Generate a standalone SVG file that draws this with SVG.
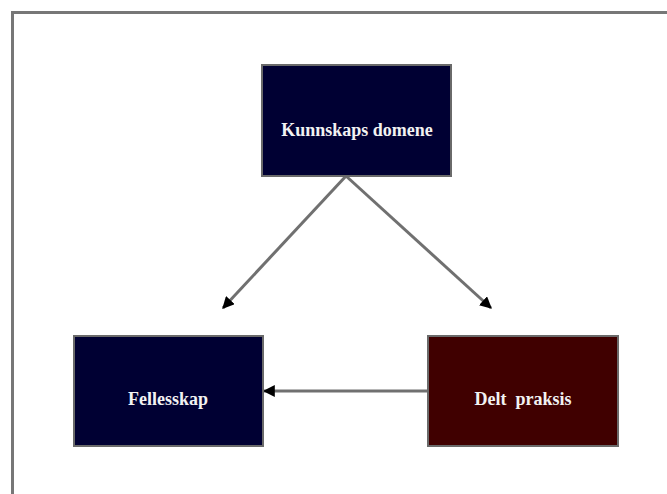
<svg xmlns="http://www.w3.org/2000/svg" width="667" height="494" viewBox="0 0 667 494">
<defs>
<marker id="ah" viewBox="0 0 10 10" refX="9" refY="5" markerWidth="4" markerHeight="4" markerUnits="strokeWidth" orient="auto">
<path d="M0,0 L10,5 L0,10 z" fill="#000"/>
</marker>
<style>
.box{stroke:#6a6a6a;stroke-width:2}
.lbl{font-family:"Liberation Serif",serif;font-weight:bold;font-size:18px;fill:#f2f2f2;text-anchor:middle;dominant-baseline:central}
.conn{stroke:#707070;stroke-width:3;fill:none;marker-end:url(#ah)}
</style>
</defs>
<rect x="0" y="0" width="667" height="494" fill="#fff"/>
<rect x="12.5" y="12.5" width="670" height="500" fill="none" stroke="#777" stroke-width="3"/>
<g id="connectors">
<line class="conn" x1="346" y1="176" x2="223" y2="308"/>
<line class="conn" x1="346" y1="176" x2="491" y2="308"/>
<line class="conn" x1="428" y1="391" x2="264" y2="391"/>
</g>
<g id="kunnskaps">
<rect class="box" x="262" y="65" width="189" height="111" fill="#000033"/>
<text class="lbl" x="357" y="130">Kunnskaps domene</text>
</g>
<g id="fellesskap">
<rect class="box" x="74" y="336" width="189" height="110" fill="#000033"/>
<text class="lbl" x="168" y="399">Fellesskap</text>
</g>
<g id="delt">
<rect class="box" x="428" y="336" width="190" height="110" fill="#400000"/>
<text class="lbl" x="523" y="399" xml:space="preserve">Delt  praksis</text>
</g>
</svg>
